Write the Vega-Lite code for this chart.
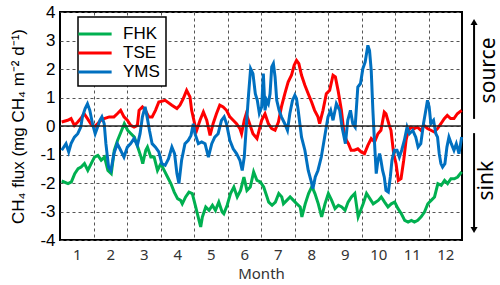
{
 "$schema": "https://vega.github.io/schema/vega-lite/v6.json",
 "width": 402,
 "height": 228,
 "autosize": {"type": "none"},
 "padding": {"left": 60, "top": 12, "right": 38, "bottom": 45},
 "background": "white",
 "config": {
  "view": {"stroke": "black", "strokeWidth": 2},
  "font": "Liberation Sans",
  "legend": {"strokeWidth": 1.5},
  "axisX": {"titleFont": "Noto Sans", "titleFontSize": 15, "titleFontWeight": "normal", "titleColor": "#333", "titlePadding": 4,
   "labelFont": "Noto Sans", "labelFontSize": 15, "labelColor": "#333", "labelPadding": 7, "labelFlush": false, "labelOverlap": false,
   "ticks": false, "tickSize": 0, "domain": false, "grid": true, "gridDash": [3, 3], "gridColor": "#555"},
  "axisY": {"titleFont": "Liberation Sans", "titleFontSize": 17, "titleFontWeight": "normal", "titleColor": "black", "titlePadding": 12,
   "labelFont": "Liberation Sans", "labelFontSize": 17, "labelColor": "black", "labelPadding": 5, "labelOverlap": false,
   "ticks": false, "tickSize": 0, "domain": false, "grid": true, "gridDash": [3, 3], "gridColor": "#555"}
 },
 "data": {"values": [
{"site":"FHK","month":0.55,"flux":-1.93},{"site":"FHK","month":0.74,"flux":-2.02},{"site":"FHK","month":0.84,"flux":-1.96},{"site":"FHK","month":0.94,"flux":-1.67},{"site":"FHK","month":1.04,"flux":-1.5},{"site":"FHK","month":1.13,"flux":-1.44},{"site":"FHK","month":1.23,"flux":-1.32},{"site":"FHK","month":1.33,"flux":-1.56},{"site":"FHK","month":1.43,"flux":-1.32},{"site":"FHK","month":1.53,"flux":-1.09},{"site":"FHK","month":1.63,"flux":-1.03},{"site":"FHK","month":1.73,"flux":-1.2},{"site":"FHK","month":1.83,"flux":-1.09},{"site":"FHK","month":1.93,"flux":-1.56},{"site":"FHK","month":2.03,"flux":-1.67},{"site":"FHK","month":2.12,"flux":-0.85},{"site":"FHK","month":2.22,"flux":-0.5},{"site":"FHK","month":2.32,"flux":-0.21},{"site":"FHK","month":2.42,"flux":0.08},{"site":"FHK","month":2.52,"flux":-0.15},{"site":"FHK","month":2.62,"flux":-0.27},{"site":"FHK","month":2.72,"flux":-0.39},{"site":"FHK","month":2.82,"flux":-0.74},{"site":"FHK","month":2.92,"flux":-1.09},{"site":"FHK","month":2.97,"flux":-1.32},{"site":"FHK","month":3.06,"flux":-0.85},{"site":"FHK","month":3.11,"flux":-0.74},{"site":"FHK","month":3.21,"flux":-1.09},{"site":"FHK","month":3.31,"flux":-1.09},{"site":"FHK","month":3.41,"flux":-1.56},{"site":"FHK","month":3.51,"flux":-1.32},{"site":"FHK","month":3.61,"flux":-1.56},{"site":"FHK","month":3.71,"flux":-1.79},{"site":"FHK","month":3.81,"flux":-2.02},{"site":"FHK","month":3.91,"flux":-2.32},{"site":"FHK","month":4.01,"flux":-2.55},{"site":"FHK","month":4.1,"flux":-2.61},{"site":"FHK","month":4.15,"flux":-2.73},{"site":"FHK","month":4.25,"flux":-2.49},{"site":"FHK","month":4.35,"flux":-2.32},{"site":"FHK","month":4.45,"flux":-2.37},{"site":"FHK","month":4.55,"flux":-2.84},{"site":"FHK","month":4.65,"flux":-3.31},{"site":"FHK","month":4.7,"flux":-3.54},{"site":"FHK","month":4.75,"flux":-3.19},{"site":"FHK","month":4.85,"flux":-2.84},{"site":"FHK","month":4.95,"flux":-2.96},{"site":"FHK","month":5.05,"flux":-2.78},{"site":"FHK","month":5.14,"flux":-2.96},{"site":"FHK","month":5.24,"flux":-2.67},{"site":"FHK","month":5.34,"flux":-3.02},{"site":"FHK","month":5.39,"flux":-3.08},{"site":"FHK","month":5.49,"flux":-2.78},{"site":"FHK","month":5.59,"flux":-2.37},{"site":"FHK","month":5.69,"flux":-2.14},{"site":"FHK","month":5.79,"flux":-2.49},{"site":"FHK","month":5.89,"flux":-2.26},{"site":"FHK","month":5.99,"flux":-1.79},{"site":"FHK","month":6.08,"flux":-2.26},{"site":"FHK","month":6.18,"flux":-2.14},{"site":"FHK","month":6.28,"flux":-1.61},{"site":"FHK","month":6.38,"flux":-1.91},{"site":"FHK","month":6.48,"flux":-1.96},{"site":"FHK","month":6.58,"flux":-2.14},{"site":"FHK","month":6.68,"flux":-2.49},{"site":"FHK","month":6.73,"flux":-2.67},{"site":"FHK","month":6.83,"flux":-2.78},{"site":"FHK","month":6.93,"flux":-2.67},{"site":"FHK","month":7.03,"flux":-2.37},{"site":"FHK","month":7.12,"flux":-2.49},{"site":"FHK","month":7.17,"flux":-2.73},{"site":"FHK","month":7.27,"flux":-2.61},{"site":"FHK","month":7.37,"flux":-2.49},{"site":"FHK","month":7.47,"flux":-2.61},{"site":"FHK","month":7.57,"flux":-2.73},{"site":"FHK","month":7.67,"flux":-2.84},{"site":"FHK","month":7.72,"flux":-3.19},{"site":"FHK","month":7.82,"flux":-2.73},{"site":"FHK","month":7.92,"flux":-2.37},{"site":"FHK","month":8.02,"flux":-2.12},{"site":"FHK","month":8.11,"flux":-2.37},{"site":"FHK","month":8.21,"flux":-2.73},{"site":"FHK","month":8.31,"flux":-3.19},{"site":"FHK","month":8.41,"flux":-2.73},{"site":"FHK","month":8.51,"flux":-2.37},{"site":"FHK","month":8.61,"flux":-2.61},{"site":"FHK","month":8.71,"flux":-2.9},{"site":"FHK","month":8.81,"flux":-2.78},{"site":"FHK","month":8.91,"flux":-2.84},{"site":"FHK","month":9.01,"flux":-2.96},{"site":"FHK","month":9.1,"flux":-2.67},{"site":"FHK","month":9.2,"flux":-2.49},{"site":"FHK","month":9.3,"flux":-2.37},{"site":"FHK","month":9.4,"flux":-3.19},{"site":"FHK","month":9.55,"flux":-2.73},{"site":"FHK","month":9.65,"flux":-2.37},{"site":"FHK","month":9.75,"flux":-2.55},{"site":"FHK","month":9.85,"flux":-2.73},{"site":"FHK","month":10.0,"flux":-2.61},{"site":"FHK","month":10.09,"flux":-2.49},{"site":"FHK","month":10.19,"flux":-2.67},{"site":"FHK","month":10.29,"flux":-2.84},{"site":"FHK","month":10.39,"flux":-2.73},{"site":"FHK","month":10.49,"flux":-2.67},{"site":"FHK","month":10.59,"flux":-2.9},{"site":"FHK","month":10.69,"flux":-3.08},{"site":"FHK","month":10.79,"flux":-3.31},{"site":"FHK","month":10.89,"flux":-3.37},{"site":"FHK","month":10.99,"flux":-3.31},{"site":"FHK","month":11.08,"flux":-3.37},{"site":"FHK","month":11.18,"flux":-3.31},{"site":"FHK","month":11.28,"flux":-3.19},{"site":"FHK","month":11.38,"flux":-3.02},{"site":"FHK","month":11.48,"flux":-2.73},{"site":"FHK","month":11.58,"flux":-2.61},{"site":"FHK","month":11.68,"flux":-2.49},{"site":"FHK","month":11.78,"flux":-2.02},{"site":"FHK","month":11.88,"flux":-2.08},{"site":"FHK","month":11.98,"flux":-1.91},{"site":"FHK","month":12.07,"flux":-2.02},{"site":"FHK","month":12.17,"flux":-1.85},{"site":"FHK","month":12.27,"flux":-1.85},{"site":"FHK","month":12.37,"flux":-1.79},{"site":"FHK","month":12.49,"flux":-1.61},
{"site":"TSE","month":0.55,"flux":0.14},{"site":"TSE","month":0.73,"flux":0.2},{"site":"TSE","month":0.83,"flux":0.26},{"site":"TSE","month":0.93,"flux":0.02},{"site":"TSE","month":1.03,"flux":0.14},{"site":"TSE","month":1.12,"flux":0.26},{"site":"TSE","month":1.22,"flux":0.43},{"site":"TSE","month":1.32,"flux":0.26},{"site":"TSE","month":1.42,"flux":0.08},{"site":"TSE","month":1.52,"flux":-0.04},{"site":"TSE","month":1.62,"flux":0.08},{"site":"TSE","month":1.72,"flux":0.2},{"site":"TSE","month":1.82,"flux":0.26},{"site":"TSE","month":1.97,"flux":0.32},{"site":"TSE","month":2.11,"flux":0.32},{"site":"TSE","month":2.21,"flux":0.43},{"site":"TSE","month":2.31,"flux":0.55},{"site":"TSE","month":2.41,"flux":0.32},{"site":"TSE","month":2.51,"flux":0.2},{"site":"TSE","month":2.61,"flux":0.02},{"site":"TSE","month":2.71,"flux":-0.04},{"site":"TSE","month":2.81,"flux":0.02},{"site":"TSE","month":2.86,"flux":0.55},{"site":"TSE","month":2.96,"flux":0.67},{"site":"TSE","month":3.05,"flux":0.55},{"site":"TSE","month":3.15,"flux":0.32},{"site":"TSE","month":3.25,"flux":0.32},{"site":"TSE","month":3.35,"flux":0.55},{"site":"TSE","month":3.45,"flux":0.84},{"site":"TSE","month":3.64,"flux":0.9},{"site":"TSE","month":3.84,"flux":0.73},{"site":"TSE","month":3.99,"flux":0.61},{"site":"TSE","month":4.08,"flux":0.73},{"site":"TSE","month":4.18,"flux":0.96},{"site":"TSE","month":4.28,"flux":1.25},{"site":"TSE","month":4.38,"flux":1.02},{"site":"TSE","month":4.43,"flux":0.55},{"site":"TSE","month":4.53,"flux":0.02},{"site":"TSE","month":4.58,"flux":-0.15},{"site":"TSE","month":4.68,"flux":0.2},{"site":"TSE","month":4.78,"flux":0.49},{"site":"TSE","month":4.88,"flux":0.2},{"site":"TSE","month":4.98,"flux":-0.33},{"site":"TSE","month":5.07,"flux":0.08},{"site":"TSE","month":5.17,"flux":0.43},{"site":"TSE","month":5.27,"flux":0.73},{"site":"TSE","month":5.37,"flux":0.67},{"site":"TSE","month":5.47,"flux":0.55},{"site":"TSE","month":5.57,"flux":0.32},{"site":"TSE","month":5.67,"flux":0.2},{"site":"TSE","month":5.77,"flux":0.08},{"site":"TSE","month":5.87,"flux":-0.09},{"site":"TSE","month":5.92,"flux":-0.27},{"site":"TSE","month":6.0,"flux":0.2},{"site":"TSE","month":6.06,"flux":0.43},{"site":"TSE","month":6.16,"flux":0.08},{"site":"TSE","month":6.26,"flux":-0.27},{"site":"TSE","month":6.38,"flux":-0.44},{"site":"TSE","month":6.52,"flux":0.2},{"site":"TSE","month":6.62,"flux":0.43},{"site":"TSE","month":6.72,"flux":0.08},{"site":"TSE","month":6.82,"flux":-0.09},{"site":"TSE","month":6.92,"flux":-0.15},{"site":"TSE","month":7.02,"flux":0.14},{"site":"TSE","month":7.11,"flux":0.67},{"site":"TSE","month":7.21,"flux":1.13},{"site":"TSE","month":7.31,"flux":1.54},{"site":"TSE","month":7.41,"flux":1.78},{"site":"TSE","month":7.49,"flux":2.13},{"site":"TSE","month":7.56,"flux":2.3},{"site":"TSE","month":7.63,"flux":2.19},{"site":"TSE","month":7.71,"flux":1.78},{"site":"TSE","month":7.81,"flux":1.43},{"site":"TSE","month":7.91,"flux":1.13},{"site":"TSE","month":8.01,"flux":0.84},{"site":"TSE","month":8.1,"flux":0.55},{"site":"TSE","month":8.2,"flux":0.32},{"site":"TSE","month":8.25,"flux":0.08},{"site":"TSE","month":8.35,"flux":0.55},{"site":"TSE","month":8.45,"flux":1.13},{"site":"TSE","month":8.55,"flux":1.25},{"site":"TSE","month":8.65,"flux":1.78},{"site":"TSE","month":8.72,"flux":1.72},{"site":"TSE","month":8.8,"flux":1.25},{"site":"TSE","month":8.9,"flux":0.55},{"site":"TSE","month":8.98,"flux":-0.27},{"site":"TSE","month":9.05,"flux":-0.5},{"site":"TSE","month":9.11,"flux":-0.62},{"site":"TSE","month":9.19,"flux":-0.85},{"site":"TSE","month":9.29,"flux":-0.85},{"site":"TSE","month":9.39,"flux":-0.8},{"site":"TSE","month":9.49,"flux":-0.91},{"site":"TSE","month":9.59,"flux":-0.97},{"site":"TSE","month":9.69,"flux":-0.68},{"site":"TSE","month":9.79,"flux":-0.44},{"site":"TSE","month":9.89,"flux":-0.56},{"site":"TSE","month":9.99,"flux":-0.27},{"site":"TSE","month":10.08,"flux":-0.15},{"site":"TSE","month":10.18,"flux":0.49},{"site":"TSE","month":10.23,"flux":0.43},{"site":"TSE","month":10.33,"flux":0.02},{"site":"TSE","month":10.38,"flux":-0.15},{"site":"TSE","month":10.46,"flux":-0.97},{"site":"TSE","month":10.53,"flux":-1.32},{"site":"TSE","month":10.6,"flux":-1.91},{"site":"TSE","month":10.68,"flux":-1.85},{"site":"TSE","month":10.76,"flux":-1.2},{"site":"TSE","month":10.83,"flux":-0.5},{"site":"TSE","month":10.9,"flux":-0.15},{"site":"TSE","month":10.98,"flux":-0.04},{"site":"TSE","month":11.07,"flux":-0.09},{"site":"TSE","month":11.17,"flux":-0.04},{"site":"TSE","month":11.27,"flux":-0.15},{"site":"TSE","month":11.37,"flux":0.02},{"site":"TSE","month":11.47,"flux":-0.09},{"site":"TSE","month":11.57,"flux":-0.15},{"site":"TSE","month":11.67,"flux":-0.21},{"site":"TSE","month":11.77,"flux":-0.09},{"site":"TSE","month":11.87,"flux":0.08},{"site":"TSE","month":11.97,"flux":0.26},{"site":"TSE","month":12.06,"flux":0.37},{"site":"TSE","month":12.16,"flux":0.26},{"site":"TSE","month":12.26,"flux":0.26},{"site":"TSE","month":12.36,"flux":0.43},{"site":"TSE","month":12.49,"flux":0.55},
{"site":"YMS","month":0.55,"flux":-0.85},{"site":"YMS","month":0.68,"flux":-0.62},{"site":"YMS","month":0.76,"flux":-0.91},{"site":"YMS","month":0.83,"flux":-0.62},{"site":"YMS","month":0.93,"flux":-0.39},{"site":"YMS","month":1.03,"flux":-0.27},{"site":"YMS","month":1.12,"flux":-0.04},{"site":"YMS","month":1.17,"flux":0.32},{"site":"YMS","month":1.25,"flux":0.61},{"site":"YMS","month":1.32,"flux":0.78},{"site":"YMS","month":1.39,"flux":0.55},{"site":"YMS","month":1.47,"flux":0.08},{"site":"YMS","month":1.55,"flux":-0.27},{"site":"YMS","month":1.62,"flux":-0.04},{"site":"YMS","month":1.69,"flux":0.2},{"site":"YMS","month":1.75,"flux":0.32},{"site":"YMS","month":1.82,"flux":0.08},{"site":"YMS","month":1.87,"flux":-0.62},{"site":"YMS","month":1.95,"flux":-1.44},{"site":"YMS","month":2.02,"flux":-1.56},{"site":"YMS","month":2.11,"flux":-0.97},{"site":"YMS","month":2.21,"flux":-0.62},{"site":"YMS","month":2.31,"flux":-0.85},{"site":"YMS","month":2.41,"flux":-1.09},{"site":"YMS","month":2.51,"flux":-0.74},{"site":"YMS","month":2.61,"flux":-0.62},{"site":"YMS","month":2.71,"flux":-0.44},{"site":"YMS","month":2.81,"flux":-0.68},{"site":"YMS","month":2.89,"flux":-0.27},{"site":"YMS","month":2.96,"flux":0.32},{"site":"YMS","month":3.04,"flux":0.67},{"site":"YMS","month":3.1,"flux":0.32},{"site":"YMS","month":3.17,"flux":-0.15},{"site":"YMS","month":3.25,"flux":-0.62},{"site":"YMS","month":3.35,"flux":-0.74},{"site":"YMS","month":3.45,"flux":-0.91},{"site":"YMS","month":3.54,"flux":-1.32},{"site":"YMS","month":3.64,"flux":-1.38},{"site":"YMS","month":3.74,"flux":-1.15},{"site":"YMS","month":3.84,"flux":-0.74},{"site":"YMS","month":3.92,"flux":-0.97},{"site":"YMS","month":3.99,"flux":-1.67},{"site":"YMS","month":4.05,"flux":-2.02},{"site":"YMS","month":4.13,"flux":-1.2},{"site":"YMS","month":4.23,"flux":-0.62},{"site":"YMS","month":4.33,"flux":-0.5},{"site":"YMS","month":4.41,"flux":-0.33},{"site":"YMS","month":4.48,"flux":0.08},{"site":"YMS","month":4.53,"flux":-0.27},{"site":"YMS","month":4.63,"flux":-0.62},{"site":"YMS","month":4.73,"flux":-0.56},{"site":"YMS","month":4.83,"flux":-0.62},{"site":"YMS","month":4.93,"flux":-1.09},{"site":"YMS","month":5.03,"flux":-0.62},{"site":"YMS","month":5.12,"flux":-0.39},{"site":"YMS","month":5.22,"flux":-0.27},{"site":"YMS","month":5.32,"flux":0.2},{"site":"YMS","month":5.4,"flux":0.32},{"site":"YMS","month":5.47,"flux":0.08},{"site":"YMS","month":5.57,"flux":-0.5},{"site":"YMS","month":5.67,"flux":-0.8},{"site":"YMS","month":5.77,"flux":-0.97},{"site":"YMS","month":5.87,"flux":-1.2},{"site":"YMS","month":5.94,"flux":-1.56},{"site":"YMS","month":6.0,"flux":-1.09},{"site":"YMS","month":6.06,"flux":-0.04},{"site":"YMS","month":6.13,"flux":1.13},{"site":"YMS","month":6.19,"flux":2.01},{"site":"YMS","month":6.26,"flux":1.84},{"site":"YMS","month":6.33,"flux":1.13},{"site":"YMS","month":6.39,"flux":0.9},{"site":"YMS","month":6.45,"flux":0.45},{"site":"YMS","month":6.52,"flux":0.67},{"site":"YMS","month":6.57,"flux":1.84},{"site":"YMS","month":6.62,"flux":0.55},{"site":"YMS","month":6.67,"flux":0.9},{"site":"YMS","month":6.72,"flux":0.78},{"site":"YMS","month":6.77,"flux":1.13},{"site":"YMS","month":6.82,"flux":2.07},{"site":"YMS","month":6.87,"flux":2.19},{"site":"YMS","month":6.92,"flux":1.72},{"site":"YMS","month":6.97,"flux":0.9},{"site":"YMS","month":7.04,"flux":0.55},{"site":"YMS","month":7.11,"flux":0.32},{"site":"YMS","month":7.21,"flux":0.08},{"site":"YMS","month":7.29,"flux":-0.15},{"site":"YMS","month":7.36,"flux":0.43},{"site":"YMS","month":7.44,"flux":0.9},{"site":"YMS","month":7.51,"flux":1.08},{"site":"YMS","month":7.56,"flux":0.96},{"site":"YMS","month":7.61,"flux":0.55},{"site":"YMS","month":7.66,"flux":0.08},{"site":"YMS","month":7.71,"flux":-0.39},{"site":"YMS","month":7.81,"flux":-0.85},{"site":"YMS","month":7.91,"flux":-1.56},{"site":"YMS","month":7.99,"flux":-1.91},{"site":"YMS","month":8.05,"flux":-2.2},{"site":"YMS","month":8.12,"flux":-1.79},{"site":"YMS","month":8.2,"flux":-1.56},{"site":"YMS","month":8.3,"flux":-1.09},{"site":"YMS","month":8.4,"flux":-0.39},{"site":"YMS","month":8.5,"flux":0.32},{"site":"YMS","month":8.58,"flux":0.55},{"site":"YMS","month":8.65,"flux":0.2},{"site":"YMS","month":8.75,"flux":0.78},{"site":"YMS","month":8.85,"flux":0.55},{"site":"YMS","month":8.92,"flux":-0.04},{"site":"YMS","month":9.02,"flux":-0.62},{"site":"YMS","month":9.09,"flux":0.2},{"site":"YMS","month":9.17,"flux":0.55},{"site":"YMS","month":9.24,"flux":0.08},{"site":"YMS","month":9.31,"flux":-0.04},{"site":"YMS","month":9.39,"flux":1.37},{"site":"YMS","month":9.47,"flux":1.49},{"site":"YMS","month":9.54,"flux":2.01},{"site":"YMS","month":9.61,"flux":2.25},{"site":"YMS","month":9.69,"flux":2.83},{"site":"YMS","month":9.74,"flux":2.65},{"site":"YMS","month":9.79,"flux":1.95},{"site":"YMS","month":9.84,"flux":0.55},{"site":"YMS","month":9.89,"flux":-0.62},{"site":"YMS","month":9.94,"flux":-1.67},{"site":"YMS","month":9.99,"flux":-1.2},{"site":"YMS","month":10.04,"flux":-0.97},{"site":"YMS","month":10.08,"flux":-1.2},{"site":"YMS","month":10.13,"flux":-1.56},{"site":"YMS","month":10.18,"flux":-1.79},{"site":"YMS","month":10.23,"flux":-2.26},{"site":"YMS","month":10.3,"flux":-2.32},{"site":"YMS","month":10.36,"flux":-1.79},{"site":"YMS","month":10.41,"flux":-1.2},{"site":"YMS","month":10.48,"flux":-0.85},{"site":"YMS","month":10.56,"flux":-0.85},{"site":"YMS","month":10.63,"flux":-1.09},{"site":"YMS","month":10.7,"flux":-0.85},{"site":"YMS","month":10.78,"flux":-0.5},{"site":"YMS","month":10.86,"flux":-0.04},{"site":"YMS","month":10.93,"flux":-0.27},{"site":"YMS","month":11.03,"flux":-0.15},{"site":"YMS","month":11.12,"flux":-0.39},{"site":"YMS","month":11.19,"flux":-0.74},{"site":"YMS","month":11.27,"flux":-0.62},{"site":"YMS","month":11.35,"flux":0.08},{"site":"YMS","month":11.42,"flux":0.55},{"site":"YMS","month":11.47,"flux":0.9},{"site":"YMS","month":11.52,"flux":0.67},{"site":"YMS","month":11.57,"flux":0.08},{"site":"YMS","month":11.65,"flux":0.2},{"site":"YMS","month":11.72,"flux":-0.27},{"site":"YMS","month":11.77,"flux":-0.39},{"site":"YMS","month":11.82,"flux":-0.97},{"site":"YMS","month":11.87,"flux":-1.32},{"site":"YMS","month":11.92,"flux":-1.44},{"site":"YMS","month":11.99,"flux":-1.32},{"site":"YMS","month":12.05,"flux":-0.74},{"site":"YMS","month":12.11,"flux":-0.39},{"site":"YMS","month":12.18,"flux":-0.62},{"site":"YMS","month":12.26,"flux":-0.85},{"site":"YMS","month":12.33,"flux":-0.62},{"site":"YMS","month":12.41,"flux":-0.97},{"site":"YMS","month":12.49,"flux":-0.39}
 ]},
 "layer": [
  {
   "mark": {"type": "line", "strokeWidth": 3},
   "encoding": {
    "x": {"field": "month", "type": "quantitative",
     "scale": {"domain": [0.5, 12.5], "nice": false, "zero": false},
     "axis": {"title": "Month",
      "values": [1,1.5,2,2.5,3,3.5,4,4.5,5,5.5,6,6.5,7,7.5,8,8.5,9,9.5,10,10.5,11,11.5,12],
      "labelExpr": "datum.value % 1 == 0 ? toString(datum.value) : ''",
      "gridOpacity": {"condition": {"test": "datum.value % 1 != 0", "value": 1}, "value": 0}}},
    "y": {"field": "flux", "type": "quantitative",
     "scale": {"domain": [-4, 4], "nice": false},
     "axis": {"title": "CH₄ flux (mg CH₄ m⁻² d⁻¹)",
      "values": [-4,-3,-2,-1,0,1,2,3,4], "labelExpr": "toString(datum.value)"}},
    "color": {"field": "site", "type": "nominal",
     "scale": {"domain": ["FHK", "TSE", "YMS"], "range": ["#00B050", "#FF0000", "#0070C0"]},
     "legend": {"orient": "none", "legendX": 18, "legendY": 5, "title": null, "symbolType": "M-1.75,0H1.75", "symbolSize": 361, "symbolStrokeWidth": 3,
      "labelFont": "Liberation Sans", "labelFontSize": 17, "labelColor": "black", "labelOffset": 17,
      "strokeColor": "black", "fillColor": "white", "padding": 6, "rowPadding": -4.5}}
   }
  },
  {
   "data": {"values": [{}]},
   "mark": {"type": "rule", "color": "#222", "strokeWidth": 1.5},
   "encoding": {"y": {"datum": 0, "axis": {"values": [-4,-3,-2,-1,0,1,2,3,4]}}}
  },
  {
   "data": {"values": [{}]},
   "mark": {"type": "rule", "color": "black", "strokeWidth": 2},
   "encoding": {"x": {"datum": 12.86, "axis": {"values": [1,1.5,2,2.5,3,3.5,4,4.5,5,5.5,6,6.5,7,7.5,8,8.5,9,9.5,10,10.5,11,11.5,12]}}, "y": {"datum": 0.25, "axis": {"values": [-4,-3,-2,-1,0,1,2,3,4]}}, "y2": {"datum": 3.65}}
  },
  {
   "data": {"values": [{}]},
   "mark": {"type": "rule", "color": "black", "strokeWidth": 2},
   "encoding": {"x": {"datum": 12.86, "axis": {"values": [1,1.5,2,2.5,3,3.5,4,4.5,5,5.5,6,6.5,7,7.5,8,8.5,9,9.5,10,10.5,11,11.5,12]}}, "y": {"datum": -0.25, "axis": {"values": [-4,-3,-2,-1,0,1,2,3,4]}}, "y2": {"datum": -3.65}}
  },
  {
   "data": {"values": [{}]},
   "mark": {"type": "point", "shape": "triangle-up", "filled": true, "color": "black", "size": 50, "opacity": 1},
   "encoding": {"x": {"datum": 12.86, "axis": {"values": [1,1.5,2,2.5,3,3.5,4,4.5,5,5.5,6,6.5,7,7.5,8,8.5,9,9.5,10,10.5,11,11.5,12]}}, "y": {"datum": 3.65, "axis": {"values": [-4,-3,-2,-1,0,1,2,3,4]}}}
  },
  {
   "data": {"values": [{}]},
   "mark": {"type": "point", "shape": "triangle-down", "filled": true, "color": "black", "size": 50, "opacity": 1},
   "encoding": {"x": {"datum": 12.86, "axis": {"values": [1,1.5,2,2.5,3,3.5,4,4.5,5,5.5,6,6.5,7,7.5,8,8.5,9,9.5,10,10.5,11,11.5,12]}}, "y": {"datum": -3.65, "axis": {"values": [-4,-3,-2,-1,0,1,2,3,4]}}}
  },
  {
   "data": {"values": [{}]},
   "mark": {"type": "text", "text": "source", "angle": 270, "font": "Noto Sans", "fontSize": 21, "align": "center", "baseline": "middle", "color": "black"},
   "encoding": {"x": {"datum": 13.3, "axis": {"values": [1,1.5,2,2.5,3,3.5,4,4.5,5,5.5,6,6.5,7,7.5,8,8.5,9,9.5,10,10.5,11,11.5,12]}}, "y": {"datum": 1.95, "axis": {"values": [-4,-3,-2,-1,0,1,2,3,4]}}}
  },
  {
   "data": {"values": [{}]},
   "mark": {"type": "text", "text": "sink", "angle": 270, "font": "Noto Sans", "fontSize": 21, "align": "center", "baseline": "middle", "color": "black"},
   "encoding": {"x": {"datum": 13.26, "axis": {"values": [1,1.5,2,2.5,3,3.5,4,4.5,5,5.5,6,6.5,7,7.5,8,8.5,9,9.5,10,10.5,11,11.5,12]}}, "y": {"datum": -1.92, "axis": {"values": [-4,-3,-2,-1,0,1,2,3,4]}}}
  }
 ]
}
